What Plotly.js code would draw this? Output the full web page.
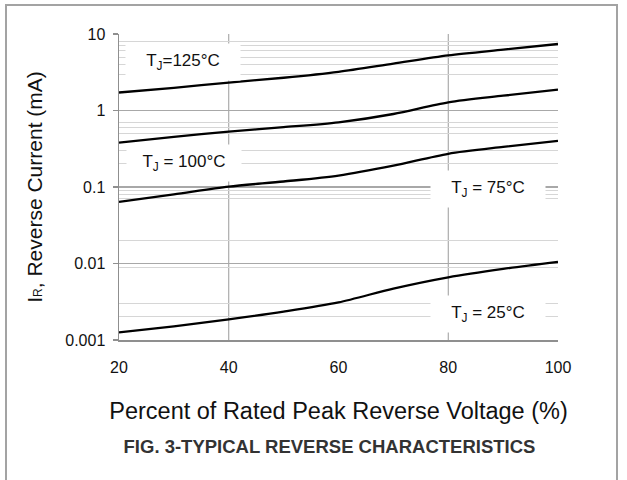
<!DOCTYPE html>
<html>
<head>
<meta charset="utf-8">
<script src="https://cdn.plot.ly/plotly-3.0.1.min.js"></script>
<style>
  html, body { margin: 0; padding: 0; background: #ffffff; overflow: hidden; }
  #wrap { position: relative; width: 627px; height: 480px; }
  #chart { position: absolute; left: 0; top: 0; width: 627px; height: 480px; }
  #frame { position: absolute; left: 5px; top: 4px; width: 613px; height: 600px;
           border: 2px solid #a3a3a3; pointer-events: none; box-sizing: border-box; }
</style>
</head>
<body>
<div id="wrap">
  <div id="chart"></div>
  <div id="frame"></div>
</div>
<script>
// ---- data ----
const voltagePct = [20, 30, 40, 50, 60, 70, 80, 90, 100];
const irT125 = [1.72, 1.98, 2.32, 2.68, 3.20, 4.10, 5.25, 6.25, 7.40];
const irT100 = [0.38, 0.452, 0.53, 0.605, 0.70, 0.90, 1.28, 1.56, 1.87];
const irT75  = [0.064, 0.080, 0.101, 0.118, 0.141, 0.190, 0.272, 0.334, 0.40];
const irT25  = [0.00126, 0.00151, 0.00186, 0.00235, 0.0031, 0.0047, 0.0066, 0.0085, 0.0105];

const xTickVals = [20, 40, 60, 80, 100];
const xTickText = ['20', '40', '60', '80', '100'];
const yTickVals = [0.001, 0.01, 0.1, 1, 10];
const yTickText = ['0.001', '0.01', '0.1', '1', '10'];
const xGridVals = [40, 80];
const yMinorGridVals = [8, 7, 6, 5, 4, 3, 0.7, 0.6, 0.5, 0.3, 0.2, 0.09, 0.08, 0.07, 0.02, 0.009, 0.003, 0.002];

const labelTexts = ['T<sub>J</sub>=125°C', 'T<sub>J</sub> = 100°C', 'T<sub>J</sub> = 75°C', 'T<sub>J</sub> = 25°C'];
const labelX = [31.7, 31.9, 87.3, 87.3];
const labelY = [4.3, 0.206, 0.094, 0.00217];

const FONT = '"Liberation Sans", Arial, sans-serif';

function curve(y) {
  return {
    x: voltagePct, y: y, type: 'scatter', mode: 'lines',
    line: { color: '#000000', width: 2.3, shape: 'spline', smoothing: 0.8 },
    hoverinfo: 'skip', showlegend: false
  };
}
const traces = [curve(irT125), curve(irT100), curve(irT75), curve(irT25)];

const shapes = xGridVals.map(v => ({
  type: 'line', xref: 'x', yref: 'paper', x0: v, x1: v, y0: 0, y1: 1,
  layer: 'below', line: { color: '#9a9a9a', width: 1 }
}));

const annotations = labelTexts.map((t, i) => ({
  text: t, xref: 'x', yref: 'y', x: labelX[i], y: Math.log10(labelY[i]),
  showarrow: false, bgcolor: '#ffffff', width: 112, height: 34,
  font: { family: FONT, size: 17, color: '#111111' }
}));

const layout = {
  width: 627, height: 480,
  margin: { l: 119, r: 69, t: 34, b: 140 },
  paper_bgcolor: '#ffffff', plot_bgcolor: '#ffffff',
  font: { family: FONT, color: '#111111' },
  showlegend: false,
  title: {
    text: '<b>FIG. 3-TYPICAL REVERSE CHARACTERISTICS</b>',
    font: { family: FONT, size: 18.5, color: '#333333' },
    xref: 'container', x: 0.5255, xanchor: 'center',
    yref: 'container', y: 0.069, yanchor: 'middle'
  },
  xaxis: {
    type: 'linear', range: [20, 100],
    tickmode: 'array', tickvals: xTickVals, ticktext: xTickText,
    ticks: '', ticklabelstandoff: 12,
    tickfont: { family: FONT, size: 16, color: '#111111' },
    showgrid: false, zeroline: false,
    showline: true, linecolor: '#8f8f8f', linewidth: 1.5,
    title: { text: 'Percent of Rated Peak Reverse Voltage (%)', standoff: 28,
             font: { family: FONT, size: 23.5, color: '#111111' } }
  },
  yaxis: {
    type: 'log', range: [-3, 1],
    tickmode: 'array', tickvals: yTickVals, ticktext: yTickText,
    ticks: 'outside', ticklen: 5, tickcolor: '#8f8f8f', tickwidth: 1.5,
    ticklabelstandoff: 4,
    tickfont: { family: FONT, size: 16, color: '#111111' },
    showgrid: true, gridcolor: '#a8a8a8', gridwidth: 1.3,
    minor: { tickmode: 'array', tickvals: yMinorGridVals, showgrid: true,
             gridcolor: '#d6d6d6', gridwidth: 1, ticks: '' },
    zeroline: false,
    showline: true, linecolor: '#8f8f8f', linewidth: 1.5,
    title: { text: 'I<span style="font-size:12px">R</span>, Reverse Current (mA)', standoff: 17,
             font: { family: FONT, size: 21, color: '#111111' } }
  },
  shapes: shapes,
  annotations: annotations
};

Plotly.newPlot('chart', traces, layout, { displayModeBar: false, staticPlot: true });
</script>
</body>
</html>
